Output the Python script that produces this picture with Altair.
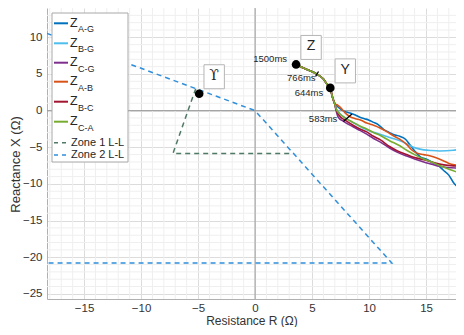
import altair as alt
import pandas as pd

# ---------------- data ----------------
phase_names = ["A-G", "B-G", "C-G", "A-B", "B-C", "C-A"]
phase_colors = ["#0072BD", "#4DBEEE", "#7E2F8E", "#D95319", "#A2142F", "#77AC30"]

common_R = [3.6, 4.4, 5.4, 6.0, 6.4, 6.6, 6.8, 7.0]
common_X = [6.3, 5.7, 5.0, 4.3, 3.4, 3.0, 1.8, 0.9]

ag_R = [7.2, 7.6, 8.0, 8.4, 8.8, 9.2, 9.6, 10.0, 10.4, 10.8, 11.3, 11.8, 12.2, 12.7, 13.2, 13.6, 14.0, 14.5, 15.0, 15.6, 16.0, 16.5, 17.0, 17.4, 18.3]
ag_X = [0.6, 0.1, -0.2, -0.35, -0.6, -0.9, -1.1, -1.3, -1.6, -1.9, -2.6, -3.0, -3.3, -3.5, -3.9, -4.7, -5.5, -6.3, -6.6, -7.1, -7.4, -8.1, -8.8, -9.8, -11.0]

bg_R = [7.1, 7.5, 8.0, 8.9, 9.5, 10.1, 10.7, 11.3, 12.1, 13.0, 13.6, 14.2, 14.8, 15.5, 16.2, 17.4, 18.3]
bg_X = [0.4, -0.5, -1.1, -1.9, -2.4, -2.8, -3.1, -3.4, -3.8, -4.3, -4.8, -5.15, -5.35, -5.45, -5.5, -5.4, -5.2]

cg_R = [7.1, 7.3, 7.8, 8.6, 9.2, 9.8, 10.4, 11.0, 11.8, 12.5, 13.3, 14.0, 14.8, 15.5, 16.2, 17.2, 18.3]
cg_X = [0.1, -0.9, -1.5, -2.2, -2.7, -3.2, -3.8, -4.3, -5.1, -5.7, -6.2, -6.6, -7.0, -7.3, -7.6, -7.8, -7.85]

ab_R = [7.2, 7.5, 7.9, 8.3, 8.8, 9.3, 9.8, 10.4, 11.0, 11.6, 12.1, 12.7, 13.3, 13.7, 14.2, 14.8, 15.4, 16.0, 16.6, 17.0, 17.5, 18.3]
ab_X = [0.8, 0.4, -0.3, -0.8, -1.1, -1.3, -1.7, -2.0, -2.4, -2.9, -3.4, -3.9, -4.6, -5.3, -5.8, -6.0, -6.2, -6.5, -6.9, -7.2, -7.4, -7.5]

bc_R = [7.1, 7.4, 7.9, 8.6, 9.2, 9.8, 10.4, 11.0, 11.8, 12.5, 13.3, 14.0, 14.8, 15.5, 16.2, 17.2, 18.3]
bc_X = [0.2, -0.7, -1.3, -2.0, -2.5, -2.9, -3.5, -4.0, -4.9, -5.5, -6.0, -6.4, -6.7, -7.0, -7.3, -7.5, -7.6]

ca_R = [7.1, 7.4, 7.9, 8.6, 9.2, 9.8, 10.4, 11.0, 11.8, 12.7, 13.3, 14.0, 14.8, 15.5, 16.2, 17.2, 18.3]
ca_X = [0.3, -0.4, -1.0, -1.6, -2.1, -2.5, -3.0, -3.4, -4.1, -4.8, -5.4, -6.0, -6.6, -7.0, -7.5, -8.1, -8.7]

# zone 1 (the edges shared with zone 2 are drawn by zone 2)
zone1_R = [-5.2, -7.2, 3.38]
zone1_X = [3.0, -5.85, -5.85]

zone2_R = [-18.25, 0.0, 12.0, -18.25]
zone2_X = [10.54, 0.0, -20.8, -20.8]

point_names = ["ϒ", "Z", "Y"]
point_R = [-4.9, 3.6, 6.6]
point_X = [2.3, 6.3, 3.1]

time_labels = ["1500ms", "766ms", "644ms", "583ms"]
time_R = [3.6, 5.4, 6.6, 8.1]
time_X = [6.3, 5.0, 3.0, -0.95]

tick_R1 = [5.31, 7.75]
tick_X1 = [4.66, -1.47]
tick_R2 = [5.57, 8.5]
tick_X2 = [5.34, -0.45]

x_major = [-15, -10, -5, 0, 5, 10, 15]
y_major = [-25, -20, -15, -10, -5, 0, 5, 10]
x_minor = [v for v in range(-18, 18) if v % 5 != 0]
y_minor = [v for v in range(-25, 14) if v % 5 != 0]

# ---------------- frames ----------------
series_R = [ag_R, bg_R, cg_R, ab_R, bc_R, ca_R]
series_X = [ag_X, bg_X, cg_X, ab_X, bc_X, ca_X]
rows = []
for name, rr, xx in zip(phase_names, series_R, series_X):
    for i, (r, x) in enumerate(zip(common_R + rr, common_X + xx)):
        rows.append({"series": name, "R": r, "X": x, "ord": i})
traj = pd.DataFrame(rows)

z1 = pd.DataFrame({"R": zone1_R, "X": zone1_X, "ord": range(len(zone1_R))})
z2 = pd.DataFrame({"R": zone2_R, "X": zone2_X, "ord": range(len(zone2_R))})
pts = pd.DataFrame({"name": point_names, "R": point_R, "X": point_X})
ticks = pd.DataFrame({"R": tick_R1, "X": tick_X1, "R2": tick_R2, "X2": tick_X2})

XDOM = [-18.25, 17.63]
YDOM = [-25.7, 14.0]
FONT = "Liberation Sans"
TXT = "#262626"

xenc = alt.X("R:Q", scale=alt.Scale(domain=XDOM, nice=False, zero=False),
             axis=alt.Axis(values=x_major, title="Resistance R (Ω)", format="d",
                           labelOverlap=False, labelFlush=False,
                           gridColor="#dcdcdc", ticks=False, labelPadding=3,
                           titleY=28, titleBaseline="bottom", domainColor="#b0b0b0",
                           labelFontSize=11.5, titleFontSize=12,
                           labelColor="#333333", titleColor="#333333",
                           labelFont=FONT, titleFont=FONT, titleFontWeight="normal"))
yenc = alt.Y("X:Q", scale=alt.Scale(domain=YDOM, nice=False, zero=False),
             axis=alt.Axis(values=y_major, title="Reactance X (Ω)", format="d",
                           labelOverlap=False, labelFlush=False,
                           gridColor="#dcdcdc", ticks=False, labelPadding=5,
                           titleX=-32, titleY=156, titleBaseline="middle", titleAngle=270,
                           domainColor="#b0b0b0",
                           labelFontSize=11.5, titleFontSize=13,
                           labelColor="#333333", titleColor="#333333",
                           labelFont=FONT, titleFont=FONT, titleFontWeight="normal"))

base_axes = alt.Chart(z2).mark_point(opacity=0).encode(x=xenc, y=yenc)

minor_x = alt.Chart(pd.DataFrame({"R": x_minor})).mark_rule(color="#efefef", strokeWidth=1).encode(
    x="R:Q")
minor_y = alt.Chart(pd.DataFrame({"X": y_minor})).mark_rule(color="#efefef", strokeWidth=1).encode(
    y="X:Q")

zero_x = alt.Chart(pd.DataFrame({"k": [0]})).mark_rule(color="#9a9a9a", strokeWidth=1).encode(x=alt.X(datum=0))
zero_y = alt.Chart(pd.DataFrame({"k": [0]})).mark_rule(color="#9a9a9a", strokeWidth=1).encode(y=alt.Y(datum=0))

zone1_line = alt.Chart(z1).mark_line(color="#4f7a66", strokeDash=[5, 4], strokeWidth=1.5, clip=True).encode(
    x="R:Q", y="X:Q", order="ord:Q")
zone2_line = alt.Chart(z2).mark_line(color="#2f8fdb", strokeDash=[5, 4], strokeWidth=1.5, clip=True).encode(
    x="R:Q", y="X:Q", order="ord:Q")

traj_lines = alt.Chart(traj).mark_line(strokeWidth=1.6, interpolate="monotone", clip=True).encode(
    x="R:Q", y="X:Q", order="ord:Q",
    color=alt.Color("series:N", scale=alt.Scale(domain=phase_names, range=phase_colors), legend=None),
    detail="series:N")

tick_marks = alt.Chart(ticks).mark_rule(color="black", strokeWidth=1.3).encode(
    x="R:Q", y="X:Q", x2="R2:Q", y2="X2:Q")

dots = alt.Chart(pts).mark_circle(color="black", opacity=1, size=75).encode(x="R:Q", y="X:Q")

box_shape = "M-0.85,-1H0.85V1H-0.85Z"
boxes = alt.Chart(pts).mark_point(shape=box_shape, size=576, filled=True, fill="white", stroke="#b5b5b5",
                                  strokeWidth=1, opacity=1, xOffset=15, yOffset=-17).encode(x="R:Q", y="X:Q")
box_text_sans = alt.Chart(pts).transform_filter("datum.name !== 'ϒ'").mark_text(
    font=FONT, fontSize=14, color=TXT, dx=15, dy=-18, baseline="middle").encode(x="R:Q", y="X:Q", text="name:N")
box_text_serif = alt.Chart(pts).transform_filter("datum.name === 'ϒ'").mark_text(
    font="DejaVu Serif", fontSize=14, color=TXT, dx=15, dy=-18, baseline="middle").encode(x="R:Q", y="X:Q", text="name:N")

time_offsets = [(-9, -5), (-1, 4), (-7, 4), (-10, 1.5)]
time_layers = []
for lab, r, x, (ddx, ddy) in zip(time_labels, time_R, time_X, time_offsets):
    time_layers.append(
        alt.Chart(pd.DataFrame({"R": [r], "X": [x], "t": [lab]})).mark_text(
            font=FONT, fontSize=9.5, color=TXT, align="right", baseline="middle", dx=ddx, dy=ddy
        ).encode(x="R:Q", y="X:Q", text="t:N"))

# ---------------- manual legend (pixel layout) ----------------
one = pd.DataFrame({"k": [0]})
legend_layers = [
    alt.Chart(one).mark_rect(fill="white", stroke="#a8a8a8", strokeWidth=1).encode(
        x=alt.value(5), x2=alt.value(81), y=alt.value(5), y2=alt.value(154))
]
leg_y = [15.3, 35.3, 54.7, 73.7, 93.7, 113.7]
for name, col, yy in zip(phase_names, phase_colors, leg_y):
    legend_layers.append(alt.Chart(one).mark_rule(color=col, strokeWidth=2).encode(
        x=alt.value(7), x2=alt.value(21), y=alt.value(yy)))
    legend_layers.append(alt.Chart(one).mark_text(font=FONT, fontSize=12.5, color=TXT, align="left",
                                                  baseline="middle").encode(
        x=alt.value(23), y=alt.value(yy - 0.5), text=alt.value("Z")))
    legend_layers.append(alt.Chart(one).mark_text(font=FONT, fontSize=9, color=TXT, align="left",
                                                  baseline="middle").encode(
        x=alt.value(31), y=alt.value(yy + 6), text=alt.value(name)))
zone_names = ["Zone 1 L-L", "Zone 2 L-L"]
zone_colors = ["#4f7a66", "#2f8fdb"]
zone_leg_y = [134.7, 147.0]
for name, col, yy in zip(zone_names, zone_colors, zone_leg_y):
    legend_layers.append(alt.Chart(one).mark_rule(color=col, strokeWidth=1.5, strokeDash=[4, 4]).encode(
        x=alt.value(7), x2=alt.value(21), y=alt.value(yy)))
    legend_layers.append(alt.Chart(one).mark_text(font=FONT, fontSize=11, color=TXT, align="left",
                                                  baseline="middle").encode(
        x=alt.value(24), y=alt.value(yy), text=alt.value(name)))

chart = alt.layer(
    base_axes, minor_x, minor_y, zero_x, zero_y, zone1_line, zone2_line, traj_lines, tick_marks, dots,
    boxes, box_text_sans, box_text_serif, *time_layers, *legend_layers
).properties(
    width=409, height=291,
    autosize=alt.AutoSizeParams(type="none"),
    padding={"left": 39, "top": 0, "right": 0, "bottom": 28},
).configure_view(stroke=None).configure_axis(domainWidth=1)

chart.save("out.html", embed_options={"renderer": "svg", "actions": False})
